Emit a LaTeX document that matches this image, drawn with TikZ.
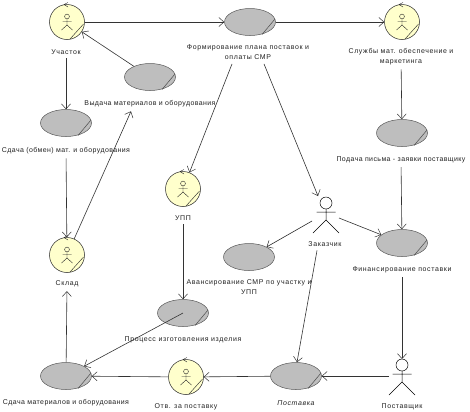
\documentclass[tikz,border=0pt]{standalone}
\usepackage{fontspec}
\setmainfont[LetterSpace=9]{Liberation Sans}
\usetikzlibrary{arrows.meta,shapes.geometric}
\definecolor{uyellow}{HTML}{FFFFCC}
\definecolor{ugray}{HTML}{BEBEBE}
\definecolor{ltxt}{HTML}{222222}
\tikzset{
  x=1bp,y=-1bp,
  conn/.style={draw=black!80,line width=0.6bp,-{Straight Barb[length=5bp,width=9bp,line width=0.5bp]}},
  uc/.style={ellipse,draw=black!65,fill=ugray,line width=0.5bp,minimum width=51bp,minimum height=27bp,inner sep=0pt},
  wk/.style={circle,draw=black!85,fill=uyellow,line width=0.5bp,minimum size=35bp,inner sep=0pt},
  lbl/.style={font=\fontsize{7}{10}\selectfont,text=ltxt,align=center,inner sep=1bp,outer sep=3bp},
  lbltight/.style={lbl,font=\fontsize{7}{10}\selectfont\addfontfeatures{LetterSpace=6}},
  lblit/.style={lbl,font=\fontsize{7}{10}\selectfont\itshape},
  stick/.style={draw=black!85,line width=0.4bp}
}
\newcommand{\ucmark}[1]{\draw[draw=black!70,line width=0.5bp] (#1)++(25,-3) -- ++(-13,15.5);}
\newcommand{\wkicon}[1]{
  \begin{scope}[shift={(#1)}]
    \draw[stick] (0,-5.5) circle[radius=2.4];
    \draw[stick] (0,-3) -- (0,3) (-4.5,-0.5) -- (4.5,-0.5) (-5.5,8) -- (0,3) -- (5.5,8);
    \draw[stick] (16.5,2) -- (3,17);
    \draw[stick] (1,-19.5) -- (-3,-17.5) -- (1,-15);
  \end{scope}}
\newcommand{\actorfig}[1]{
  \begin{scope}[shift={(#1)}]
    \draw[draw=black,line width=0.5bp] (0,0) circle[radius=6];
    \draw[draw=black,line width=0.5bp] (0,6) -- (0,17) (-9.5,9) -- (9.5,9) (-13,30) -- (0,17) -- (13,30);
  \end{scope}}
\begin{document}
\begin{tikzpicture}
\useasboundingbox[fill=white] (0,0) rectangle (470,411);
% workers
\node[wk] (uch) at (67,22) {};
\node[wk] (sluz) at (402,22) {};
\node[wk] (upp) at (183,189) {};
\node[wk] (skl) at (67,255) {};
\node[wk] (otv) at (186,377) {};
\wkicon{uch}\wkicon{sluz}\wkicon{upp}\wkicon{skl}\wkicon{otv}
% use cases
\node[uc] (form) at (250,22) {};
\node[uc] (vyd) at (150,77) {};
\node[uc] (sdo) at (66,123) {};
\node[uc] (pod) at (402,133) {};
\node[uc] (ava) at (249,257) {};
\node[uc] (fin) at (402,243) {};
\node[uc] (pro) at (183,313) {};
\node[uc] (sdm) at (66,376) {};
\node[uc] (pos) at (296,376) {};
\ucmark{form}\ucmark{vyd}\ucmark{sdo}\ucmark{pod}\ucmark{fin}\ucmark{pro}\ucmark{sdm}\ucmark{pos}
% actors
\actorfig{326,203}\actorfig{402,365}
\coordinate (zak) at (326,214);
\coordinate (pst) at (402,376);
\coordinate (zakhead) at (318,196);
\coordinate (psthead) at (402,359);
% labels
\node[lbl] (luch) at (66,52) {Участок};
\node[lbl] (lform) at (248,52.5) {Формирование плана поставок и\\оплаты СМР};
\node[lbl] (lsluz) at (401,57) {Службы мат. обеспечение и\\маркетинга};
\node[lbltight] (lvyd) at (150,104) {Выдача материалов и оборудования};
\node[lbltight] (lsdo) at (66,151) {Сдача (обмен) мат. и оборудования};
\node[lbltight] (lpod) at (401,160) {Подача письма - заявки поставщику};
\node[lbl] (lupp) at (183,218) {УПП};
\node[lbl] (lskl) at (67,284) {Склад};
\node[lbl] (lava) at (249,287.5) {Авансирование СМР по участку и\\УПП};
\node[lbl] (lzak) at (325,244) {Заказчик};
\node[lbl] (lfin) at (402,270) {Финансирование поставки};
\node[lbl] (lpro) at (183,340) {Процесс изготовления изделия};
\node[lbltight] (lsdm) at (66,403) {Сдача материалов и оборудования};
\node[lbl] (lotv) at (186,407) {Отв. за поставку};
\node[lblit] (lpos) at (296,403) {Поставка};
\node[lbl] (lpst) at (402,407) {Поставщик};
% connectors
\draw[conn] (uch) -- (form);
\draw[conn] (form) -- (sluz);
\draw[conn] (vyd) -- (uch);
\draw[conn] (luch) -- (sdo);
\draw[conn] (lsdo) -- (skl);
\draw[conn] (skl) -- ([xshift=-19bp]lvyd.south);
\draw[conn] ([xshift=-16bp]lform.south) -- (upp);
\draw[conn] ([xshift=16bp]lform.south) -- (zakhead);
\draw[conn] (lsluz) -- (pod);
\draw[conn] (lpod) -- (fin);
\draw[conn] (zak) ++(-14,7) -- (ava);
\draw[conn] (zak) ++(13,4) -- (fin);
\draw[conn] ([xshift=-8bp]lzak.south) -- ([xshift=1bp]pos.north);
\draw[conn] (lfin) -- (psthead);
\draw[conn] (pst) ++(-13,0) -- (pos);
\draw[conn] (pos) -- (otv);
\draw[conn] (otv) -- (sdm);
\draw[conn] (pro.center) -- (sdm);
\draw[conn] (lupp) -- (pro);
\draw[conn] (sdm) -- (lskl);
\end{tikzpicture}
\end{document}
